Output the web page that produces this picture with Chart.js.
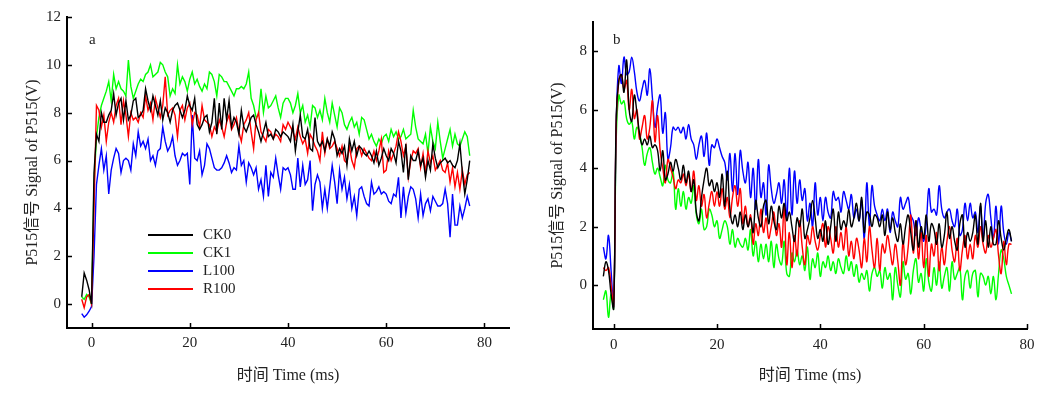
<!DOCTYPE html>
<html>
<head>
<meta charset="utf-8">
<script src="https://cdn.jsdelivr.net/npm/chart.js@4.4.0/dist/chart.umd.min.js"></script>
<style>
  body { margin: 0; background: #fff; }
  #wrap { position: relative; width: 1060px; height: 394px; }
  canvas { position: absolute; top: 0; }
  #chartA { left: 0; }
  #chartB { left: 530px; }
</style>
</head>
<body>
<div id="wrap">
  <canvas id="chartA" width="530" height="394"></canvas>
  <canvas id="chartB" width="530" height="394"></canvas>
</div>
<script>
// ---- Datos ----
// muestreo: desde -2 ms, cada 0.5 ms
const timeStart = -2;
const timeStep = 0.5;

const seriesNames = ['CK0', 'CK1', 'L100', 'R100'];
const seriesColors = ['#000000', '#00ff00', '#0000ff', '#ff0000'];

const xTicks = [0, 20, 40, 60, 80];
const yTicksA = [0, 2, 4, 6, 8, 10, 12];
const yTicksB = [0, 2, 4, 6, 8];

// panel a
const ck0A = [
  0.3, 1.3, 1.0, 0.6, 0.0, 5.5, 7.1, 6.8, 8.0, 7.6,
  7.6, 7.9, 8.1, 8.8, 7.9, 8.4, 8.6, 7.7, 8.5, 7.7,
  7.9, 8.5, 8.6, 7.8, 7.9, 8.1, 9.0, 8.5, 8.1, 8.7,
  8.3, 7.9, 8.5, 7.7, 8.2, 8.0, 7.6, 8.1, 8.3, 8.4,
  8.1, 7.8, 8.1, 8.7, 8.3, 8.1, 8.6, 7.5, 7.3, 7.5,
  7.8, 7.9, 7.2, 7.6, 8.6, 7.1, 8.4, 7.3, 8.6, 7.7,
  8.5, 7.4, 7.8, 7.6, 7.1, 8.1, 7.4, 7.2, 7.5, 7.8,
  7.9, 7.5, 7.2, 6.8, 7.2, 7.6, 7.0, 7.1, 6.9, 7.3,
  7.2, 7.0, 7.2, 7.1, 7.0, 6.8, 7.5, 6.4, 7.2, 7.9,
  7.0, 6.9, 7.3, 6.5, 6.4, 7.8, 6.8, 6.6, 6.8, 6.4,
  6.9, 6.6, 7.2, 6.9, 6.2, 6.5, 6.3, 6.6, 5.8, 6.9,
  6.4, 6.8, 6.2, 6.6, 6.5, 6.3, 6.2, 6.4, 6.2, 5.9,
  6.4, 5.8, 6.1, 6.5, 6.2, 6.0, 6.5, 6.3, 5.9, 6.8,
  6.4, 5.5, 6.7, 5.2, 6.2, 6.0, 6.0, 6.4, 5.8, 6.1,
  5.3, 6.0, 5.6, 6.7, 6.1, 5.7, 5.9, 6.0, 6.1, 5.9,
  6.0, 5.8, 5.7, 6.0, 6.7, 5.5, 4.6, 5.2, 6.0
];
const ck1A = [
  0.3, 0.2, 0.4, 0.3, 0.0, 5.0, 7.0, 7.8, 8.3, 8.6,
  8.9, 9.3, 8.5, 9.6, 9.0, 9.3, 9.0, 8.9, 8.7, 10.2,
  9.1, 8.6, 8.9, 9.2, 9.4, 9.3, 9.6, 9.7, 10.0, 9.5,
  9.6, 9.7, 10.1, 10.0, 9.7, 9.5, 8.7, 9.0, 8.8, 10.0,
  9.2, 9.5, 9.3, 8.9, 9.4, 9.7, 9.2, 9.4, 9.1, 8.9,
  9.2, 9.0, 9.7, 9.6, 9.3, 8.7, 9.6, 9.5, 9.3, 9.3,
  9.1, 8.9, 8.7, 9.0, 9.0, 9.1, 9.0, 9.2, 9.7, 8.6,
  8.3, 7.8, 7.9, 9.0, 8.0, 8.7, 8.2, 8.3, 8.5, 8.7,
  8.2, 7.8, 8.4, 8.6, 8.6, 8.4, 8.0, 8.3, 8.8, 8.0,
  8.3, 7.6, 7.9, 7.4, 8.3, 8.2, 7.8, 8.1, 7.7, 8.6,
  8.0, 7.6, 8.4, 7.9, 7.4, 8.2, 8.0, 7.5, 7.3, 7.6,
  7.8, 7.4, 7.6, 7.1, 7.8, 7.7, 7.3, 6.9, 7.1, 6.8,
  6.6, 6.9, 6.7, 7.0, 7.1, 6.8, 7.3, 7.0, 7.2, 6.9,
  7.0, 7.3, 6.9, 7.0, 7.1, 8.1, 7.4, 6.9, 6.8, 6.7,
  7.1, 6.3, 7.4, 6.8, 6.5, 7.6, 6.8, 6.1, 6.5, 6.9,
  7.3, 6.6, 7.1, 6.7, 6.6, 6.9, 7.2, 7.0, 6.2
];
const l100A = [
  -0.4, -0.55, -0.45, -0.3, -0.1, 2.0, 5.0, 5.8, 6.5, 5.6,
  6.2, 4.6, 5.6, 6.1, 6.5, 6.3, 5.5, 6.0, 6.1, 6.0,
  5.6, 6.7, 6.2, 7.2, 6.6, 6.8, 6.5, 6.9, 6.0, 6.2,
  5.8, 6.4, 6.5, 7.4, 6.8, 6.4, 6.6, 7.0, 6.2, 5.8,
  6.0, 6.3, 6.2, 6.3, 5.0, 7.9, 6.1, 6.0, 6.4, 5.4,
  5.8, 6.7, 6.5, 6.1, 5.7, 5.6, 5.6, 5.7, 5.9, 6.2,
  5.9, 5.5, 5.7, 5.6, 6.6, 5.8, 6.0, 5.1, 5.9, 5.7,
  5.4, 5.7, 4.8, 5.2, 4.5, 5.8, 4.5, 5.5, 5.3, 6.1,
  5.4, 4.8, 5.7, 5.6, 5.7, 5.4, 4.8, 4.8, 6.1, 4.9,
  5.8, 5.0, 5.2, 6.0, 3.9, 5.0, 5.4, 5.1, 4.0, 4.8,
  4.0, 4.9, 5.8, 5.1, 4.2, 5.6, 4.8, 5.3, 4.4, 5.0,
  4.0, 4.5, 3.7, 4.8, 4.9, 4.5, 4.2, 4.1, 5.1, 4.6,
  4.7, 4.9, 4.6, 4.7, 4.6, 4.3, 4.2, 4.6, 4.5, 5.3,
  3.6, 4.9, 3.8, 4.5, 4.9, 4.8, 4.4, 3.6, 4.6, 3.7,
  4.2, 4.4, 3.9, 4.5, 4.3, 4.1, 4.1, 4.2, 4.8, 4.2,
  2.8, 4.6, 3.3, 3.3, 4.1, 3.6, 4.0, 4.5, 4.1
];
const r100A = [
  0.2, -0.15, 0.3, 0.4, 0.0, 4.0, 8.3, 8.1, 7.4, 7.9,
  6.8, 7.6, 8.0, 7.6, 8.3, 8.6, 7.5, 8.5, 7.9, 7.0,
  8.0, 7.7, 7.8, 7.6, 8.0, 7.8, 8.7, 8.1, 8.4, 7.7,
  8.6, 8.2, 7.8, 8.3, 9.5, 7.9, 8.1, 8.2, 7.9, 7.0,
  8.1, 8.3, 7.7, 8.2, 8.4, 7.5, 8.0, 7.9, 7.4, 8.3,
  7.7, 7.6, 7.5, 7.0, 7.4, 7.2, 7.7, 7.4, 7.0, 7.6,
  7.9, 7.3, 7.5, 7.8, 7.2, 6.8, 7.5, 7.7, 8.0, 7.2,
  6.5, 7.7, 8.0, 7.2, 7.0, 6.8, 7.3, 7.2, 6.9, 7.1,
  7.0, 6.8, 7.5, 7.3, 7.6, 7.4, 7.2, 6.9, 7.4, 7.0,
  6.7, 6.9, 6.3, 7.1, 6.9, 6.6, 6.4, 6.0, 7.2, 6.3,
  6.9, 6.5, 6.6, 6.8, 6.5, 6.2, 6.6, 6.0, 5.9, 6.6,
  6.0, 5.7, 6.5, 6.6, 6.2, 6.5, 6.3, 6.1, 6.0, 6.4,
  6.0, 6.4, 6.9, 5.5, 5.6, 6.4, 6.0, 6.3, 6.6, 7.2,
  6.8, 6.2, 6.6, 5.3, 6.0, 6.4, 6.3, 6.5, 5.7, 6.3,
  5.5, 6.4, 5.9, 6.2, 5.6, 5.8, 6.0, 5.6, 5.5, 5.9,
  5.1, 5.7, 4.9, 5.5, 4.8, 5.6, 5.0, 5.4, 5.5
];

// panel b
const ck0B = [
  0.3, 0.8, 0.5, -0.3, -0.8, 5.8, 7.0, 7.2, 6.6, 7.7,
  6.0, 5.6, 6.5, 5.9, 5.2, 4.8, 5.0, 4.8, 5.1, 4.7,
  4.8, 4.6, 3.9, 4.6, 3.6, 3.8, 4.2, 3.9, 4.3, 4.0,
  3.6, 4.1, 3.5, 3.9, 3.2, 3.6, 2.5, 2.2, 3.0, 3.6,
  4.0, 3.4, 3.6, 3.2, 3.5, 3.0, 3.8, 2.7, 3.9, 2.6,
  2.1, 2.4, 2.0, 2.5, 1.9, 2.4, 2.0, 2.3, 1.8, 2.9,
  2.3, 2.0, 2.7, 2.9, 2.1, 2.7, 2.2, 1.9, 2.7, 2.3,
  2.8, 2.2, 2.5, 2.0, 1.5, 2.3, 2.0, 2.6, 1.6, 1.9,
  2.3, 2.9, 2.3, 1.6, 1.9, 1.5, 2.2, 1.4, 2.0, 2.6,
  1.5, 2.5, 1.9, 2.2, 2.0, 2.6, 2.0, 2.3, 2.8, 2.2,
  3.0, 1.8, 2.5, 2.4, 2.0, 2.4, 2.3, 2.0, 2.4, 1.7,
  2.5, 1.9, 2.3, 1.8, 1.5, 2.1, 1.4, 2.0, 2.4, 1.8,
  1.2, 2.2, 1.3, 2.0, 1.6, 2.4, 1.5, 2.1, 1.9, 1.4,
  2.1, 1.3, 1.7, 2.5, 1.6, 2.0, 1.5, 1.2, 2.1, 2.4,
  1.3, 1.8, 1.5, 1.8, 2.4, 1.4, 2.8, 1.5, 2.2, 1.3,
  2.0, 1.4, 1.4, 2.2, 1.6, 1.2, 1.6, 1.9, 1.5
];
const ck1B = [
  -0.5, -0.2, -1.1, -0.3, -0.8, 5.0, 6.5, 6.2, 6.3, 5.7,
  5.5, 5.6, 5.0, 5.4, 5.2, 4.7, 4.1, 4.5, 4.7, 4.2,
  3.8, 4.0, 3.7, 3.4, 4.1, 3.6, 3.5, 3.9, 2.6, 3.3,
  2.7, 3.2, 2.6, 3.0, 2.8, 3.4, 2.4, 2.1, 2.6, 1.9,
  2.0, 2.6, 2.4, 2.0, 2.2, 1.6, 1.9, 2.2, 2.0, 1.4,
  1.9, 1.3, 1.6, 1.4, 1.3, 1.6, 1.2, 1.9, 1.0, 1.5,
  0.8, 1.4, 0.9, 1.4, 0.8, 1.5, 0.6, 1.4, 0.9, 0.7,
  1.5, 0.4, 0.3, 1.1, 0.8, 1.2, 0.7, 1.0, 0.5, 1.3,
  0.2, 0.9, 0.6, 1.1, 0.3, 0.8, 0.6, 1.0, 0.5, 0.8,
  0.4, 0.9, 0.6, 0.4, 1.0, 0.5, 0.8, 0.3, 0.7, 0.1,
  0.4, 0.2, 0.5, -0.2, 0.4, 0.6, 0.3, 0.5, -0.1, 0.6,
  0.2, 0.4, -0.5, 0.6, 0.0, -0.4, 0.8, 0.2, 0.4, -0.3,
  0.5, 0.9, 0.1, 0.4, -0.2, 0.9, 0.1, -0.2, 0.6, 0.0,
  0.8, -0.1, 0.3, 0.6, -0.2, 0.8, 0.2, 0.4, 0.6, -0.5,
  0.3, 0.5, -0.1, 0.4, 0.5, -0.4, 0.4, 0.3, 0.0, 0.3,
  -0.3, 0.3, -0.5, 0.4, 1.2, 0.9, 0.3, 0.0, -0.3
];
const l100B = [
  1.3, 0.9, 1.7, 0.5, -0.7, 5.5, 7.5, 6.9, 7.8, 7.2,
  7.3, 7.8, 7.3, 6.6, 6.3, 6.7, 7.0, 6.5, 7.4, 6.4,
  5.4, 6.1, 6.5, 5.2, 5.9, 4.3, 4.7, 5.4, 5.3, 5.4,
  5.2, 5.4, 5.0, 5.5, 5.0, 4.8, 4.3, 4.8, 5.1, 4.4,
  5.2, 4.1, 4.8, 4.7, 5.0, 4.7, 4.4, 4.2, 3.6, 4.5,
  3.2, 4.5, 3.1, 4.6, 3.9, 3.5, 4.2, 3.0, 4.0, 2.6,
  4.3, 3.0, 3.5, 2.4, 4.1, 3.3, 2.8, 3.1, 3.5, 2.8,
  3.6, 2.3, 4.0, 2.4, 3.9, 2.8, 3.6, 2.9, 3.3, 2.2,
  2.8, 2.0, 3.5, 2.4, 3.0, 2.2, 3.0, 2.5, 2.3, 3.2,
  2.9, 3.0, 2.5, 3.2, 2.9, 2.6, 3.1, 2.3, 2.6, 2.2,
  2.9, 1.6, 3.5, 2.0, 3.4, 2.7, 2.4, 2.2, 2.6, 2.2,
  2.6, 1.8, 2.5, 2.2, 2.0, 3.0, 2.6, 2.8, 3.0, 2.4,
  2.2, 1.7, 2.3, 1.9, 1.5, 2.1, 3.3, 2.5, 2.6, 2.4,
  3.4, 2.6, 2.3, 2.5, 2.6, 2.2, 2.0, 2.6, 1.7, 1.9,
  2.8, 2.2, 2.8, 2.3, 2.5, 1.8, 2.7, 1.6, 2.8, 3.1,
  2.3, 1.6, 2.7, 1.4, 2.7, 1.8, 1.4, 1.8, 1.5
];
const r100B = [
  0.6, 0.5, 0.6, 0.0, -0.7, 5.5, 7.0, 7.2, 6.7, 7.0,
  6.0, 6.7, 5.7, 6.0, 5.0, 5.4, 5.8, 5.0, 5.4, 6.3,
  4.9, 5.8, 4.6, 4.0, 3.5, 4.3, 4.0, 3.7, 3.3, 3.6,
  3.5, 3.8, 3.4, 3.8, 3.2, 3.9, 2.9, 3.4, 2.7, 3.1,
  2.3, 2.8, 3.2, 2.7, 3.2, 2.7, 3.3, 2.6, 3.0, 2.3,
  3.0, 3.4, 2.7, 3.3, 2.1, 2.7, 2.0, 2.4, 1.4, 2.1,
  1.7, 2.6, 1.8, 2.3, 1.6, 2.0, 2.5, 1.7, 2.1, 1.3,
  2.7, 0.7, 1.8, 0.6, 1.7, 1.0, 2.2, 1.3, 0.7, 1.7,
  1.4, 2.0, 1.5, 1.2, 1.7, 2.1, 1.3, 2.0, 1.6, 1.1,
  2.0, 1.3, 1.8, 1.2, 2.0, 1.0, 1.5, 0.9, 1.6, 1.2,
  0.6, 1.6, 0.8, 2.0, 1.2, 0.6, 1.6, 0.5, 1.4, 1.1,
  1.7, 1.2, 0.7, 1.4, 0.8, 0.0, 1.5, 0.7, 1.3, 2.4,
  1.1, 2.2, 0.9, 1.8, 0.6, 1.7, 0.3, 1.4, 1.0, 1.8,
  0.5, 1.3, 0.7, 1.5, 2.0, 1.2, 0.8, 1.6, 0.5, 1.2,
  1.7, 0.9, 1.4, 0.9, 1.7, 1.3, 2.0, 1.4, 1.1, 1.7,
  1.3, 1.6, 1.9, 1.0, 0.4, 1.5, 0.7, 1.4, 1.4
];

// ---- Estilo común ----
const serif = '"Liberation Serif", "Times New Roman", "Noto Sans CJK SC", serif';
const textColor = '#222';
Chart.defaults.font.family = serif;
Chart.defaults.color = textColor;

function toPoints(values) {
  return values.map((v, i) => ({ x: timeStart + i * timeStep, y: v }));
}

function makeDatasets(list, tension) {
  // orden de dibujo: negro encima
  const drawOrder = [0, 3, 2, 1];
  return list.map((values, i) => ({
    label: seriesNames[i],
    data: toPoints(values),
    borderColor: seriesColors[i],
    borderWidth: 1.4,
    pointRadius: 0,
    tension: tension,
    fill: false,
    order: drawOrder[i]
  }));
}

// Ticks hacia dentro, letra del panel y leyenda
const decorPlugin = {
  id: 'decor',
  afterDraw(chart, args, opts) {
    const ctx = chart.ctx;
    const area = chart.chartArea;
    const xs = chart.scales.x, ys = chart.scales.y;
    ctx.save();
    ctx.strokeStyle = '#000';
    ctx.lineWidth = 1.5;
    ctx.beginPath();
    xs.ticks.forEach(t => {
      const px = Math.round(xs.getPixelForValue(t.value)) + 0.5;
      ctx.moveTo(px, area.bottom);
      ctx.lineTo(px, area.bottom - 5);
    });
    ys.ticks.forEach(t => {
      const py = Math.round(ys.getPixelForValue(t.value)) + 0.5;
      ctx.moveTo(area.left, py);
      ctx.lineTo(area.left + 5, py);
    });
    ctx.stroke();

    ctx.fillStyle = textColor;
    ctx.font = '15px ' + serif;
    ctx.textAlign = 'left';
    ctx.textBaseline = 'middle';
    ctx.fillText(opts.letter, area.left + opts.letterDx, area.top + opts.letterDy);

    if (opts.legend) {
      const lx = area.left + 81;
      let ly = area.top + 218;
      chart.data.datasets.forEach(ds => {
        ctx.strokeStyle = ds.borderColor;
        ctx.lineWidth = 2;
        ctx.beginPath();
        ctx.moveTo(lx, ly);
        ctx.lineTo(lx + 45, ly);
        ctx.stroke();
        ctx.fillStyle = textColor;
        ctx.fillText(ds.label, lx + 55, ly);
        ly += 18;
      });
    }
    ctx.restore();
  }
};

function makeOptions(cfg) {
  return {
    responsive: false,
    animation: false,
    layout: { padding: { top: cfg.top, right: cfg.right, left: 0, bottom: 0 } },
    plugins: {
      legend: { display: false },
      tooltip: { enabled: false },
      decor: { letter: cfg.letter, letterDx: cfg.letterDx, letterDy: cfg.letterDy, legend: cfg.legend }
    },
    scales: {
      x: {
        type: 'linear',
        min: cfg.xMin,
        max: cfg.xMax,
        afterBuildTicks: s => { s.ticks = xTicks.map(v => ({ value: v })); },
        afterFit: s => { s.height = cfg.xHeight; },
        grid: { display: false, drawTicks: false },
        border: { display: true, color: '#000', width: 2 },
        ticks: { padding: cfg.xPad, color: textColor, font: { size: 15 }, maxRotation: 0 },
        title: {
          display: true,
          text: '时间 Time (ms)',
          color: textColor,
          font: { size: 16 },
          padding: { top: 0, bottom: 9 }
        }
      },
      y: {
        min: cfg.yMin,
        max: cfg.yMax,
        afterBuildTicks: s => { s.ticks = cfg.yTicks.map(v => ({ value: v })); },
        afterFit: s => { s.width = cfg.yWidth; },
        grid: { display: false, drawTicks: false },
        border: { display: true, color: '#000', width: 2 },
        ticks: { padding: 6, color: textColor, font: { size: 15 } },
        title: {
          display: true,
          text: 'P515信号 Signal of P515(V)',
          color: textColor,
          font: { size: 16 },
          padding: { top: cfg.yTitlePad, bottom: 0 }
        }
      }
    }
  };
}

new Chart(document.getElementById('chartA'), {
  type: 'line',
  data: { datasets: makeDatasets([ck0A, ck1A, l100A, r100A], 0) },
  options: makeOptions({
    top: 17, right: 21, xMin: -5, xMax: 85, yMin: -1, yMax: 12, yTicks: yTicksA,
    xHeight: 66, yWidth: 67, xPad: 6, yTitlePad: 23,
    letter: 'a', letterDx: 22, letterDy: 23, legend: true
  }),
  plugins: [decorPlugin]
});

new Chart(document.getElementById('chartB'), {
  type: 'line',
  data: { datasets: makeDatasets([ck0B, ck1B, l100B, r100B], 0.4) },
  options: makeOptions({
    top: 22, right: 33, xMin: -4, xMax: 80, yMin: -1.5, yMax: 9, yTicks: yTicksB,
    xHeight: 65, yWidth: 63, xPad: 7, yTitlePad: 18,
    letter: 'b', letterDx: 20, letterDy: 18, legend: false
  }),
  plugins: [decorPlugin]
});
</script>
</body>
</html>
